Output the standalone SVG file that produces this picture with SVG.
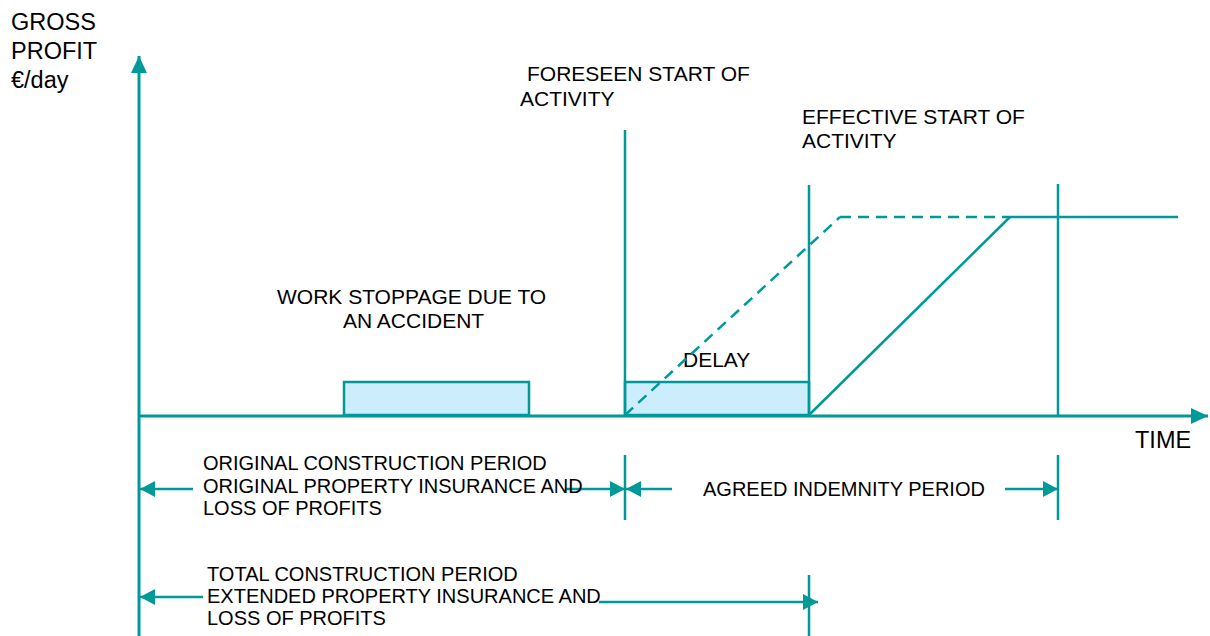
<svg xmlns="http://www.w3.org/2000/svg" width="1210" height="636" viewBox="0 0 1210 636">
<style>
text{font-family:"Liberation Sans",Arial,sans-serif;fill:#000;}
.ln{stroke:#009999;stroke-width:2.5;fill:none;}
.ax{stroke:#009999;stroke-width:3;fill:none;}
.dash{stroke:#009999;stroke-width:2.5;fill:none;stroke-dasharray:11 7;}
.box{fill:#ccedfc;stroke:#009999;stroke-width:2.5;}
.t20{font-size:20px;}
.t21{font-size:21px;}
.t24{font-size:23.5px;}
</style>
<defs>
<marker id="ah" markerUnits="userSpaceOnUse" markerWidth="15" markerHeight="16" refX="15" refY="8" orient="auto" viewBox="0 0 15 16">
<path d="M0,0 L15,8 L0,16 z" fill="#009999"/>
</marker>
<marker id="axh" markerUnits="userSpaceOnUse" markerWidth="17" markerHeight="16" refX="17" refY="8" orient="auto" viewBox="0 0 17 16">
<path d="M0,0 L17,8 L0,16 z" fill="#009999"/>
</marker>
</defs>
<g id="work-stoppage">
<rect class="box" x="344" y="382" width="185" height="33"/>
<text class="t21" x="277" y="304">WORK STOPPAGE DUE TO</text>
<text class="t21" x="343" y="328">AN ACCIDENT</text>
</g>
<g id="delay">
<rect class="box" x="625" y="382" width="184" height="33"/>
<text class="t21" x="683" y="367">DELAY</text>
</g>
<g id="axes">
<line class="ax" x1="139" y1="636" x2="139" y2="56" marker-end="url(#axh)"/>
<line class="ax" x1="139" y1="416" x2="1208" y2="416" marker-end="url(#axh)"/>
</g>
<g id="connectors">
<line class="ln" x1="625" y1="130" x2="625" y2="416"/>
<line class="ln" x1="809" y1="185" x2="809" y2="416"/>
<line class="ln" x1="1058" y1="184" x2="1058" y2="416"/>
<line class="dash" x1="625" y1="415" x2="840" y2="217"/>
<line class="dash" x1="840" y1="217" x2="1010" y2="217"/>
<line class="ln" x1="809" y1="415" x2="1010" y2="217"/>
<line class="ln" x1="1010" y1="217" x2="1178" y2="217"/>
<line class="ln" x1="625" y1="455" x2="625" y2="520"/>
<line class="ln" x1="1058" y1="455" x2="1058" y2="520"/>
<line class="ln" x1="809" y1="575" x2="809" y2="636"/>
<line class="ln" x1="193" y1="489" x2="140" y2="489" marker-end="url(#ah)"/>
<line class="ln" x1="565" y1="489" x2="625" y2="489" marker-end="url(#ah)"/>
<line class="ln" x1="672" y1="489" x2="626" y2="489" marker-end="url(#ah)"/>
<line class="ln" x1="1005" y1="489" x2="1058" y2="489" marker-end="url(#ah)"/>
<line class="ln" x1="203" y1="597" x2="140" y2="597" marker-end="url(#ah)"/>
<line class="ln" x1="599" y1="602" x2="818" y2="602" marker-end="url(#ah)"/>
</g>
<g id="y-label">
<text class="t24" x="11" y="30">GROSS</text>
<text class="t24" x="11" y="59">PROFIT</text>
<text class="t24" x="11" y="88">€/day</text>
</g>
<g id="x-label">
<text class="t24" x="1135" y="448">TIME</text>
</g>
<g id="foreseen">
<text class="t21" x="527" y="81">FORESEEN START OF</text>
<text class="t21" x="520" y="106">ACTIVITY</text>
</g>
<g id="effective">
<text class="t21" x="802" y="124">EFFECTIVE START OF</text>
<text class="t21" x="802" y="148">ACTIVITY</text>
</g>
<g id="original-period">
<text class="t20" x="203" y="470">ORIGINAL CONSTRUCTION PERIOD</text>
<text class="t20" x="203" y="493">ORIGINAL PROPERTY INSURANCE AND</text>
<text class="t20" x="203" y="515">LOSS OF PROFITS</text>
</g>
<g id="indemnity-period">
<text class="t20" x="703" y="496">AGREED INDEMNITY PERIOD</text>
</g>
<g id="total-period">
<text class="t20" x="207" y="581">TOTAL CONSTRUCTION PERIOD</text>
<text class="t20" x="207" y="603">EXTENDED PROPERTY INSURANCE AND</text>
<text class="t20" x="207" y="625">LOSS OF PROFITS</text>
</g>
</svg>
